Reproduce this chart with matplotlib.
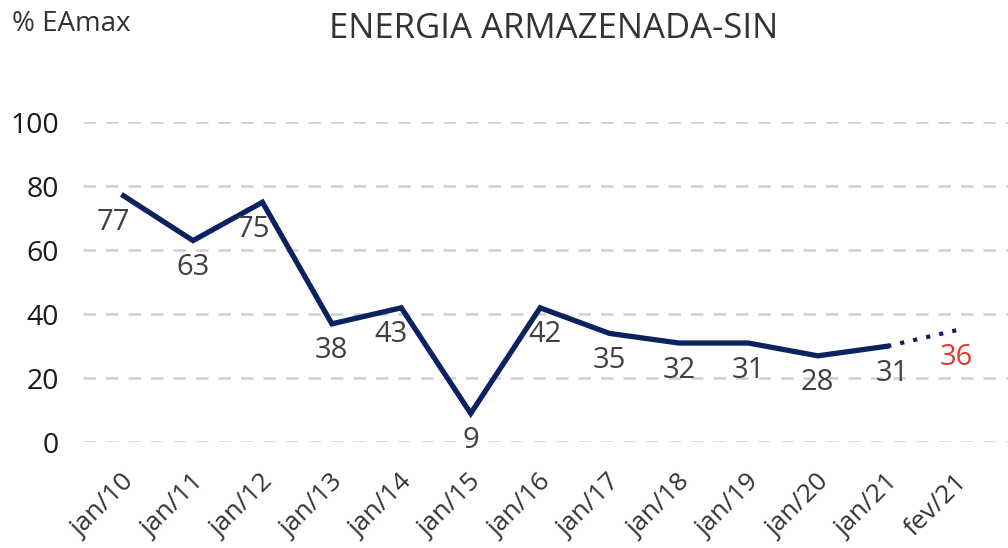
import matplotlib
matplotlib.use("Agg")
import matplotlib.pyplot as plt
import matplotlib.transforms as mtransforms

# data
meses = ["jan/10", "jan/11", "jan/12", "jan/13", "jan/14", "jan/15", "jan/16",
         "jan/17", "jan/18", "jan/19", "jan/20", "jan/21", "fev/21"]
valores = [77, 63, 75, 37, 42, 9, 42, 34, 31, 31, 27, 30, 35]
rotulos = ["77", "63", "75", "38", "43", "9", "42", "35", "32", "31", "28", "31", "36"]

plt.rcParams["font.family"] = ["Open Sans", "DejaVu Sans"]

navy = "#0b2260"
texto = "#404040"

fig = plt.figure(figsize=(10.08, 5.48), dpi=100)
ax = fig.add_axes([0.082, 0.193, 0.918, 0.584])

x = list(range(len(meses)))
# solid line up to jan/21, dotted to fev/21
ax.plot(x[:-1], valores[:-1], color=navy, lw=3.8, solid_joinstyle="miter", zorder=3)
ax.plot(x[-2:], valores[-2:], color=navy, lw=3, ls=(0, (1, 2.2)), zorder=3)

# labels below each point
dx = {0: -0.15, 2: -0.13, 4: -0.15, 6: 0.07, 11: 0.07}
for i, (v, r) in enumerate(zip(valores, rotulos)):
    cor = "#e03c31" if i == len(valores) - 1 else texto
    ax.annotate(r, (i + dx.get(i, 0), v), xytext=(0, -9), textcoords="offset points",
                ha="center", va="top", fontsize=21, color=cor, zorder=4)

ax.set_xlim(-0.59, 12.74)
ax.set_ylim(0, 100)
ax.set_yticks([0, 20, 40, 60, 80, 100])
ax.set_xticks(x)
ax.set_xticklabels(meses, rotation=45, ha="right", va="center", rotation_mode="anchor",
                   fontsize=19, color="#333333")
ax.tick_params(axis="y", labelsize=20.5, colors="#1a1a1a", length=0, pad=17)
ax.tick_params(axis="x", length=0, pad=26)

# nudge the rotated labels a bit to the right
shift = mtransforms.ScaledTranslation(7 / 100, 0, fig.dpi_scale_trans)
for l in ax.get_xticklabels():
    l.set_transform(l.get_transform() + shift)
    l.set_clip_on(False)

ax.grid(axis="y", color="#d0d0d0", lw=1.8, ls=(0, (5, 4)))
ax.set_axisbelow(True)
for s in ax.spines.values():
    s.set_visible(False)
ax.patch.set_alpha(0)
for line in ax.lines:
    line.set_clip_on(False)

fig.text(0.549, 0.947, "ENERGIA ARMAZENADA-SIN", ha="center", va="center",
         fontsize=25, color="#333333")
fig.text(0.012, 0.956, "% EAmax", ha="left", va="center", fontsize=20, color="#333333")

fig.savefig("out.png", dpi=100)
